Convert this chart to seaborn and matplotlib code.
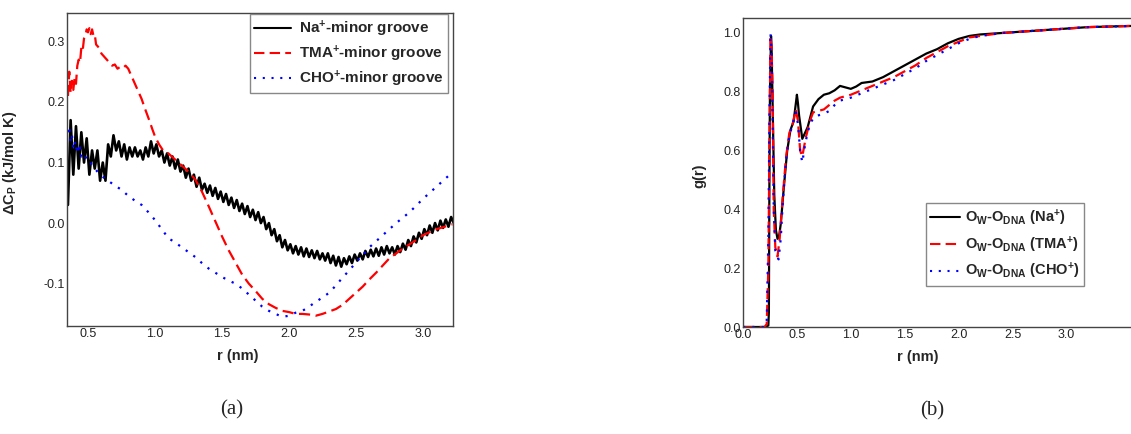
import numpy as np
import pandas as pd
import matplotlib
matplotlib.use("Agg")
import matplotlib.pyplot as plt
import seaborn as sns

# ---------------- panel (a): heat capacity change vs r ----------------
r_na = [0.35, 0.37, 0.39, 0.41, 0.43, 0.45, 0.47, 0.49, 0.51, 0.53, 0.55, 0.57, 0.59, 0.61, 0.63,
        0.65, 0.67, 0.69, 0.71, 0.73, 0.75, 0.77, 0.79, 0.81, 0.83, 0.85, 0.87, 0.89, 0.91, 0.93,
        0.95, 0.97, 0.99, 1.01, 1.03, 1.05, 1.07, 1.09, 1.11, 1.13, 1.15, 1.17, 1.19, 1.21, 1.23,
        1.25, 1.27, 1.29, 1.31, 1.33, 1.35, 1.37, 1.39, 1.41, 1.43, 1.45, 1.47, 1.49, 1.51, 1.53,
        1.55, 1.57, 1.59, 1.61, 1.63, 1.65, 1.67, 1.69, 1.71, 1.73, 1.75, 1.77, 1.79, 1.81, 1.83,
        1.85, 1.87, 1.89, 1.91, 1.93, 1.95, 1.97, 1.99, 2.01, 2.03, 2.05, 2.07, 2.09, 2.11, 2.13,
        2.15, 2.17, 2.19, 2.21, 2.23, 2.25, 2.27, 2.29, 2.31, 2.33, 2.35, 2.37, 2.39, 2.41, 2.43,
        2.45, 2.47, 2.49, 2.51, 2.53, 2.55, 2.57, 2.59, 2.61, 2.63, 2.65, 2.67, 2.69, 2.71, 2.73,
        2.75, 2.77, 2.79, 2.81, 2.83, 2.85, 2.87, 2.89, 2.91, 2.93, 2.95, 2.97, 2.99, 3.01, 3.03,
        3.05, 3.07, 3.09, 3.11, 3.13, 3.15, 3.17, 3.19, 3.21, 3.23]
cp_na = [0.03, 0.17, 0.08, 0.16, 0.09, 0.15, 0.10, 0.14, 0.08, 0.12, 0.09, 0.12, 0.07, 0.10, 0.07,
         0.13, 0.11, 0.145, 0.12, 0.135, 0.11, 0.13, 0.105, 0.125, 0.11, 0.125, 0.11, 0.12, 0.105, 0.125,
         0.11, 0.135, 0.115, 0.13, 0.11, 0.12, 0.10, 0.115, 0.095, 0.11, 0.09, 0.105, 0.085, 0.095, 0.075,
         0.09, 0.07, 0.08, 0.06, 0.075, 0.055, 0.065, 0.05, 0.062, 0.045, 0.058, 0.04, 0.052, 0.035, 0.048,
         0.03, 0.042, 0.025, 0.038, 0.02, 0.032, 0.015, 0.028, 0.01, 0.022, 0.005, 0.018, 0.0, 0.01, -0.01,
         0.0, -0.02, -0.01, -0.03, -0.02, -0.04, -0.028, -0.045, -0.035, -0.05, -0.038, -0.052, -0.04, -0.055, -0.042,
         -0.056, -0.045, -0.058, -0.046, -0.06, -0.05, -0.062, -0.05, -0.066, -0.054, -0.07, -0.056, -0.072, -0.058, -0.068,
         -0.055, -0.066, -0.052, -0.062, -0.05, -0.06, -0.046, -0.056, -0.044, -0.055, -0.042, -0.054, -0.04, -0.052, -0.038,
         -0.05, -0.04, -0.052, -0.038, -0.048, -0.034, -0.044, -0.028, -0.038, -0.022, -0.032, -0.016, -0.026, -0.01, -0.02,
         -0.004, -0.016, 0.0, -0.012, 0.004, -0.008, 0.006, -0.006, 0.01, 0.0]

r_tma = [0.35, 0.36, 0.37, 0.38, 0.39, 0.40, 0.41, 0.42, 0.43, 0.44, 0.45, 0.46, 0.47, 0.48, 0.49,
         0.50, 0.51, 0.52, 0.53, 0.54, 0.55, 0.56, 0.58, 0.60, 0.62, 0.64, 0.66, 0.68, 0.70, 0.72,
         0.74, 0.76, 0.78, 0.80, 0.82, 0.84, 0.86, 0.88, 0.90, 0.92, 0.94, 0.96, 0.98, 1.00, 1.03,
         1.06, 1.10, 1.15, 1.20, 1.25, 1.30, 1.35, 1.40, 1.45, 1.50, 1.55, 1.60, 1.65, 1.70, 1.75,
         1.80, 1.85, 1.90, 1.95, 2.00, 2.05, 2.10, 2.15, 2.20, 2.25, 2.30, 2.35, 2.40, 2.45, 2.50,
         2.55, 2.60, 2.65, 2.70, 2.75, 2.80, 2.85, 2.90, 2.95, 3.00, 3.05, 3.10, 3.15, 3.20, 3.22]
cp_tma = [0.21, 0.25, 0.215, 0.235, 0.22, 0.24, 0.23, 0.26, 0.27, 0.265, 0.29, 0.285, 0.305, 0.31, 0.32,
          0.315, 0.322, 0.312, 0.32, 0.31, 0.312, 0.295, 0.29, 0.28, 0.275, 0.27, 0.265, 0.26, 0.262, 0.255,
          0.258, 0.256, 0.26, 0.255, 0.245, 0.235, 0.225, 0.215, 0.205, 0.192, 0.18, 0.168, 0.155, 0.143, 0.13,
          0.12, 0.115, 0.105, 0.095, 0.085, 0.072, 0.052, 0.028, 0.003, -0.022, -0.045, -0.065, -0.085, -0.1, -0.112,
          -0.125, -0.134, -0.14, -0.145, -0.147, -0.15, -0.15, -0.151, -0.153, -0.15, -0.146, -0.142, -0.135, -0.125, -0.115,
          -0.105, -0.093, -0.082, -0.07, -0.058, -0.05, -0.042, -0.035, -0.028, -0.02, -0.015, -0.01, -0.007, -0.003, -0.002]

r_cho = [0.35, 0.36, 0.37, 0.38, 0.39, 0.40, 0.41, 0.42, 0.43, 0.44, 0.45, 0.47, 0.49, 0.51, 0.53,
         0.55, 0.57, 0.60, 0.65, 0.70, 0.75, 0.80, 0.85, 0.90, 0.95, 1.00, 1.05, 1.10, 1.15, 1.20,
         1.25, 1.30, 1.35, 1.40, 1.45, 1.50, 1.55, 1.60, 1.65, 1.70, 1.75, 1.80, 1.85, 1.90, 1.95,
         2.00, 2.05, 2.10, 2.15, 2.20, 2.25, 2.30, 2.35, 2.40, 2.45, 2.50, 2.55, 2.60, 2.65, 2.70,
         2.75, 2.80, 2.85, 2.90, 2.95, 3.00, 3.05, 3.10, 3.15, 3.20, 3.22]
cp_cho = [0.15, 0.16, 0.135, 0.145, 0.125, 0.135, 0.12, 0.13, 0.115, 0.125, 0.11, 0.115, 0.105, 0.105, 0.095,
          0.09, 0.085, 0.078, 0.07, 0.062, 0.055, 0.045, 0.037, 0.03, 0.018, 0.005, -0.01, -0.025, -0.032, -0.04,
          -0.048, -0.056, -0.066, -0.075, -0.082, -0.089, -0.095, -0.1, -0.108, -0.118, -0.128, -0.138, -0.145, -0.15, -0.155,
          -0.153, -0.148, -0.145, -0.138, -0.13, -0.123, -0.115, -0.103, -0.09, -0.078, -0.065, -0.053, -0.04, -0.03, -0.02,
          -0.01, 0.0, 0.009, 0.018, 0.029, 0.04, 0.05, 0.06, 0.07, 0.08, 0.083]

# ---------------- panel (b): water O - DNA O radial distribution ----------------
r_g_na = [0.0, 0.1, 0.2, 0.235, 0.24, 0.245, 0.25, 0.26, 0.265, 0.275, 0.29, 0.305, 0.32, 0.335,
          0.35, 0.38, 0.41, 0.44, 0.47, 0.49, 0.50, 0.51, 0.52, 0.55, 0.6, 0.65, 0.7, 0.75, 0.8,
          0.85, 0.9, 0.95, 1.0, 1.05, 1.1, 1.2, 1.3, 1.4, 1.5, 1.6, 1.7, 1.8, 1.9, 2.0, 2.1, 2.2,
          2.4, 2.6, 2.8, 3.0, 3.2, 3.4, 3.7]
g_na = [0.0, 0.0, 0.0, 0.005, 0.05, 0.5, 0.8, 0.99, 0.95, 0.75, 0.45, 0.33, 0.3, 0.31,
        0.35, 0.48, 0.6, 0.67, 0.7, 0.76, 0.79, 0.76, 0.72, 0.64, 0.68, 0.75, 0.775, 0.79, 0.795,
        0.805, 0.82, 0.815, 0.81, 0.818, 0.83, 0.835, 0.85, 0.87, 0.89, 0.91, 0.93, 0.945, 0.965, 0.98, 0.99, 0.995,
        1.0, 1.005, 1.01, 1.015, 1.02, 1.022, 1.025]

r_g_tma = [0.0, 0.1, 0.2, 0.22, 0.235, 0.245, 0.255, 0.265, 0.275, 0.285, 0.3, 0.32, 0.34,
           0.37, 0.4, 0.43, 0.46, 0.49, 0.51, 0.53, 0.55, 0.58, 0.62, 0.65, 0.7, 0.75, 0.8, 0.85,
           0.9, 0.95, 1.0, 1.1, 1.2, 1.3, 1.4, 1.5, 1.6, 1.7, 1.8, 1.9, 2.0, 2.1, 2.2, 2.4, 2.6,
           2.8, 3.0, 3.2, 3.4, 3.7]
g_tma = [0.0, 0.0, 0.0, 0.01, 0.2, 0.6, 0.99, 0.95, 0.8, 0.4, 0.27, 0.24, 0.3,
         0.45, 0.58, 0.66, 0.69, 0.74, 0.7, 0.6, 0.58, 0.64, 0.7, 0.73, 0.735, 0.74, 0.755, 0.77,
         0.78, 0.785, 0.79, 0.805, 0.82, 0.835, 0.85, 0.87, 0.89, 0.915, 0.935, 0.955, 0.97, 0.985, 0.99, 1.0, 1.005,
         1.01, 1.015, 1.02, 1.022, 1.025]

r_g_cho = [0.0, 0.1, 0.2, 0.22, 0.235, 0.245, 0.255, 0.265, 0.275, 0.285, 0.3, 0.33, 0.35,
           0.37, 0.4, 0.43, 0.46, 0.49, 0.51, 0.53, 0.55, 0.58, 0.62, 0.66, 0.7, 0.75, 0.8, 0.85,
           0.9, 0.95, 1.0, 1.1, 1.2, 1.3, 1.4, 1.5, 1.6, 1.7, 1.8, 1.9, 2.0, 2.1, 2.2, 2.4, 2.6,
           2.8, 3.0, 3.2, 3.4, 3.7]
g_cho = [0.0, 0.0, 0.0, 0.02, 0.3, 0.7, 1.0, 0.93, 0.7, 0.4, 0.26, 0.23, 0.3,
         0.43, 0.57, 0.65, 0.69, 0.73, 0.69, 0.6, 0.56, 0.63, 0.69, 0.715, 0.72, 0.725, 0.735, 0.755,
         0.77, 0.775, 0.78, 0.795, 0.81, 0.825, 0.84, 0.86, 0.88, 0.905, 0.925, 0.945, 0.965, 0.98, 0.99, 1.0, 1.005,
         1.01, 1.015, 1.02, 1.022, 1.025]

labels_a = [r"Na$^{+}$-minor groove", r"TMA$^{+}$-minor groove", r"CHO$^{+}$-minor groove"]
labels_b = [r"O$_{W}$-O$_{DNA}$ (Na$^{+}$)", r"O$_{W}$-O$_{DNA}$ (TMA$^{+}$)", r"O$_{W}$-O$_{DNA}$ (CHO$^{+}$)"]
colors = ["black", "#ff0000", "#0000ff"]

sns.set_style("white")
plt.rcParams["font.family"] = ["Liberation Sans", "DejaVu Sans"]
plt.rcParams["mathtext.fontset"] = "custom"
plt.rcParams["mathtext.bf"] = "Liberation Sans:bold"
plt.rcParams["mathtext.rm"] = "Liberation Sans:bold"
plt.rcParams["mathtext.default"] = "bf"

df_a = pd.concat([
    pd.DataFrame({"r": r_na, "val": cp_na, "series": labels_a[0]}),
    pd.DataFrame({"r": r_tma, "val": cp_tma, "series": labels_a[1]}),
    pd.DataFrame({"r": r_cho, "val": cp_cho, "series": labels_a[2]}),
], ignore_index=True)

df_b = pd.concat([
    pd.DataFrame({"r": r_g_na, "val": g_na, "series": labels_b[0]}),
    pd.DataFrame({"r": r_g_tma, "val": g_tma, "series": labels_b[1]}),
    pd.DataFrame({"r": r_g_cho, "val": g_cho, "series": labels_b[2]}),
], ignore_index=True)

W, H = 1131, 434
fig = plt.figure(figsize=(W / 100, H / 100), dpi=100)
ax_a = fig.add_axes([67 / W, (H - 326) / H, (453 - 67) / W, (326 - 13) / H])
ax_b = fig.add_axes([743 / W, (H - 327) / H, (1143 - 743) / W, (327 - 18) / H])

line_dashes = ["", (5, 2.5), (1, 3.2)]


def draw(ax, df, labels, widths):
    sns.lineplot(data=df, x="r", y="val", hue="series", style="series",
                 hue_order=labels, style_order=labels,
                 palette=dict(zip(labels, colors)), dashes=dict(zip(labels, line_dashes)),
                 estimator=None, sort=False, linewidth=1.5, ax=ax)
    for line, lw in zip(ax.get_lines(), widths):
        line.set_linewidth(lw)
    for s in ax.spines.values():
        s.set_color("#444444")
        s.set_linewidth(1.0)
    ax.tick_params(axis="both", labelsize=9, length=0, pad=1.5, colors="#222222")


draw(ax_a, df_a, labels_a, [1.9, 1.6, 1.6])
ax_a.set_xlim(0.343, 3.224)
ax_a.set_ylim(-0.170, 0.347)
ax_a.set_xticks([0.5, 1.0, 1.5, 2.0, 2.5, 3.0])
ax_a.set_yticks([-0.1, 0.0, 0.1, 0.2, 0.3])
ax_a.set_yticklabels(["-0.1", "0.0", "0.1", "0.2", "0.3"])
ax_a.set_xlabel("r (nm)", fontsize=10.5, fontweight="bold")
ax_a.set_ylabel(r"$\Delta$C$_{P}$ (kJ/mol K)", fontsize=10.5, fontweight="bold")
ax_a.xaxis.set_label_coords((238 - 67) / (453 - 67), -0.075)
ax_a.yaxis.set_label_coords(-(67 - 19) / (453 - 67), 0.52)
ax_a.legend(loc="upper right", bbox_to_anchor=(1.0 - 5 / 386, 1.0 - 1 / 313),
            prop={"weight": "bold", "size": 11}, frameon=True, fancybox=False,
            edgecolor="#888888", framealpha=1, handlelength=2.4, borderpad=0.3,
            labelspacing=0.3, handletextpad=0.5, borderaxespad=0.0)

draw(ax_b, df_b, labels_b, [1.6, 1.6, 1.6])
ax_b.set_xlim(0.0, 3.71)
ax_b.set_ylim(0.0, 1.051)
ax_b.set_xticks([0.0, 0.5, 1.0, 1.5, 2.0, 2.5, 3.0])
ax_b.set_yticks([0.0, 0.2, 0.4, 0.6, 0.8, 1.0])
ax_b.set_xlabel("r (nm)", fontsize=10.5, fontweight="bold")
ax_b.set_ylabel("g(r)", fontsize=10.5, fontweight="bold")
ax_b.xaxis.set_label_coords((918 - 743) / (1143 - 743), -0.075)
ax_b.yaxis.set_label_coords(-(743 - 706) / (1143 - 743), 0.49)
ax_b.legend(loc="upper left", bbox_to_anchor=((926 - 743) / 400, (327 - 203) / 309),
            prop={"weight": "bold", "size": 10.5}, frameon=True, fancybox=False,
            edgecolor="#888888", framealpha=1, handlelength=2.0, borderpad=0.3,
            labelspacing=0.45, handletextpad=0.4, borderaxespad=0.0)

fig.text(232 / W, 1 - 410 / H, "(a)", fontsize=15, family="Liberation Serif", ha="center", va="center")
fig.text(932 / W, 1 - 411 / H, "(b)", fontsize=15, family="Liberation Serif", ha="center", va="center")

fig.savefig("out.png", dpi=100)
